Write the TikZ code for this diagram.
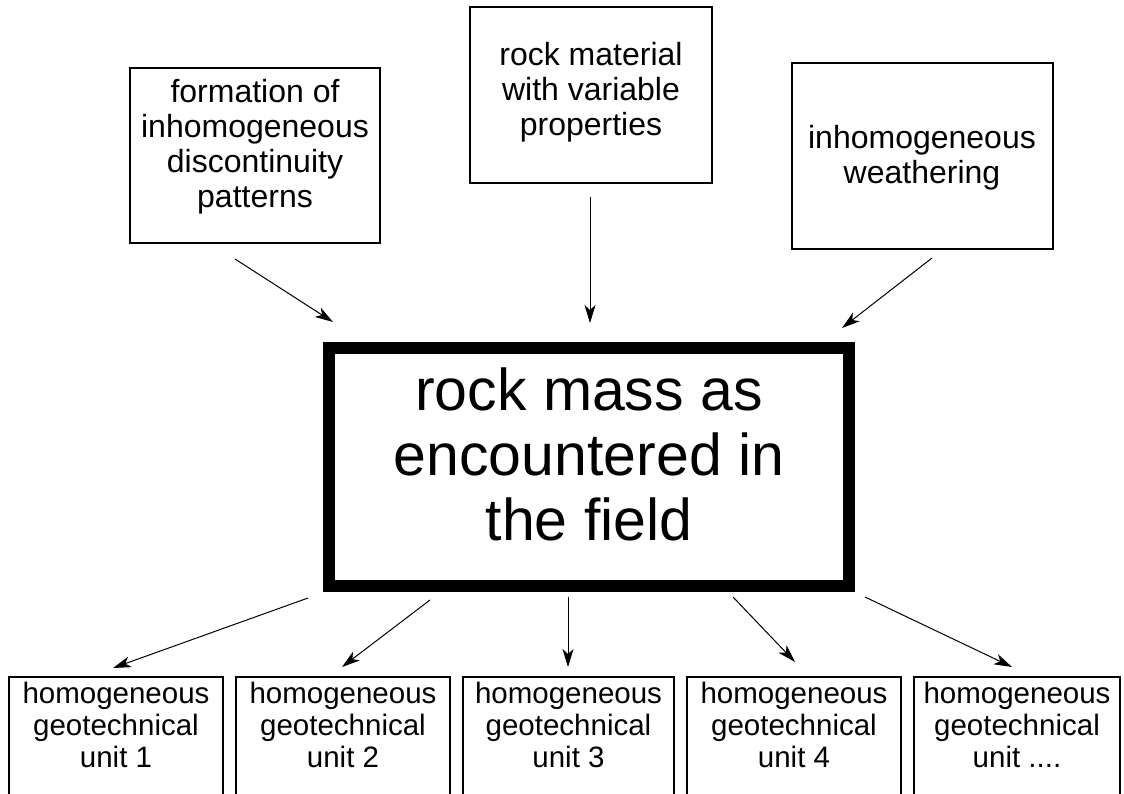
\documentclass[tikz,border=0pt]{standalone}
\usepackage{fontspec}
\setmainfont{Liberation Sans}
\usetikzlibrary{arrows.meta,calc}
\tikzset{
  boxnode/.style={draw=black, line width=1.2pt, rectangle, inner sep=0pt, outer sep=0pt, anchor=north west},
  bigbox/.style={draw=black, line width=12pt, rectangle, inner sep=0pt, anchor=north west, minimum width=520pt, minimum height=238pt},
  toptxt/.style={align=center, inner sep=0pt, anchor=north, font=\fontsize{32}{35}\selectfont},
  bottxt/.style={align=center, inner sep=0pt, anchor=north, font=\fontsize{29.5}{32}\selectfont},
  bigtxt/.style={align=center, inner sep=0pt, anchor=north, font=\fontsize{59}{65}\selectfont},
  unitbox/.style={boxnode, minimum height=150pt},
  arr/.style={line width=1pt, -{Stealth[length=18pt,width=11pt,inset=5pt]}}
}
\begin{document}
\begin{tikzpicture}[x=1pt,y=-1pt]
\useasboundingbox (0,0) rectangle (1124,794);
\clip (0,0) rectangle (1124,794);
\fill[white] (0,0) rectangle (1124,794);
% top boxes
\node[boxnode, minimum width=250pt, minimum height=175pt] (f1) at (130,68) {};
\node[toptxt] (f1t) at (255,79) {formation of\\inhomogeneous\\discontinuity\\patterns};
\node[boxnode, minimum width=242pt, minimum height=176pt] (m) at (470,7) {};
\node[toptxt] (mt) at (591,42) {rock material\\with variable\\properties};
\node[boxnode, minimum width=261pt, minimum height=186pt] (w) at (792,63) {};
\node[toptxt] (wt) at (922,125) {inhomogeneous\\weathering};
% central box (anchor includes half the line width)
\node[bigbox] (rm) at (323,342) {};
\node[bigtxt] (rmt) at (589,368) {rock mass as\\encountered in\\the field};
% bottom boxes
\node[unitbox, minimum width=214pt] (u1) at (9,677) {};
\node[unitbox, minimum width=214pt] (u2) at (236,677) {};
\node[unitbox, minimum width=211pt] (u3) at (463,677) {};
\node[unitbox, minimum width=214pt] (u4) at (687,677) {};
\node[unitbox, minimum width=206pt] (u5) at (914,677) {};
\node[bottxt] (u1t) at (u1.north |- 0,682) {homogeneous\\geotechnical\\unit 1};
\node[bottxt] (u2t) at (u2.north |- 0,682) {homogeneous\\geotechnical\\unit 2};
\node[bottxt] (u3t) at (u3.north |- 0,682) {homogeneous\\geotechnical\\unit 3};
\node[bottxt] (u4t) at (u4.north |- 0,682) {homogeneous\\geotechnical\\unit 4};
\node[bottxt] (u5t) at (u5.north |- 0,682) {homogeneous\\geotechnical\\unit ....};
% arrows in
\draw[arr] ($(f1.south)+(-20,16)$) -- ($(rm.north west)+(10,-20)$);
\draw[arr] ($(m.south)+(-1,14)$) -- ($(rm.north)+(1,-19)$);
\draw[arr] ($(w.south)+(9.5,9)$) -- ($(rm.north east)+(-13,-14)$);
% arrows out
\draw[arr] ($(rm.south west)+(-15,6)$) -- ($(u1.north)+(-3,-9)$);
\draw[arr] ($(rm.south west)+(107,8)$) -- ($(u2.north)+(-1,-10)$);
\draw[arr] ($(rm.south)+(-21,5)$) -- ($(u3.north)+(-0.5,-10)$);
\draw[arr] ($(rm.south east)+(-122,5)$) -- ($(u4.north)+(1,-15)$);
\draw[arr] ($(rm.south east)+(10,5)$) -- ($(u5.north)+(-5,-10)$);
\end{tikzpicture}
\end{document}
